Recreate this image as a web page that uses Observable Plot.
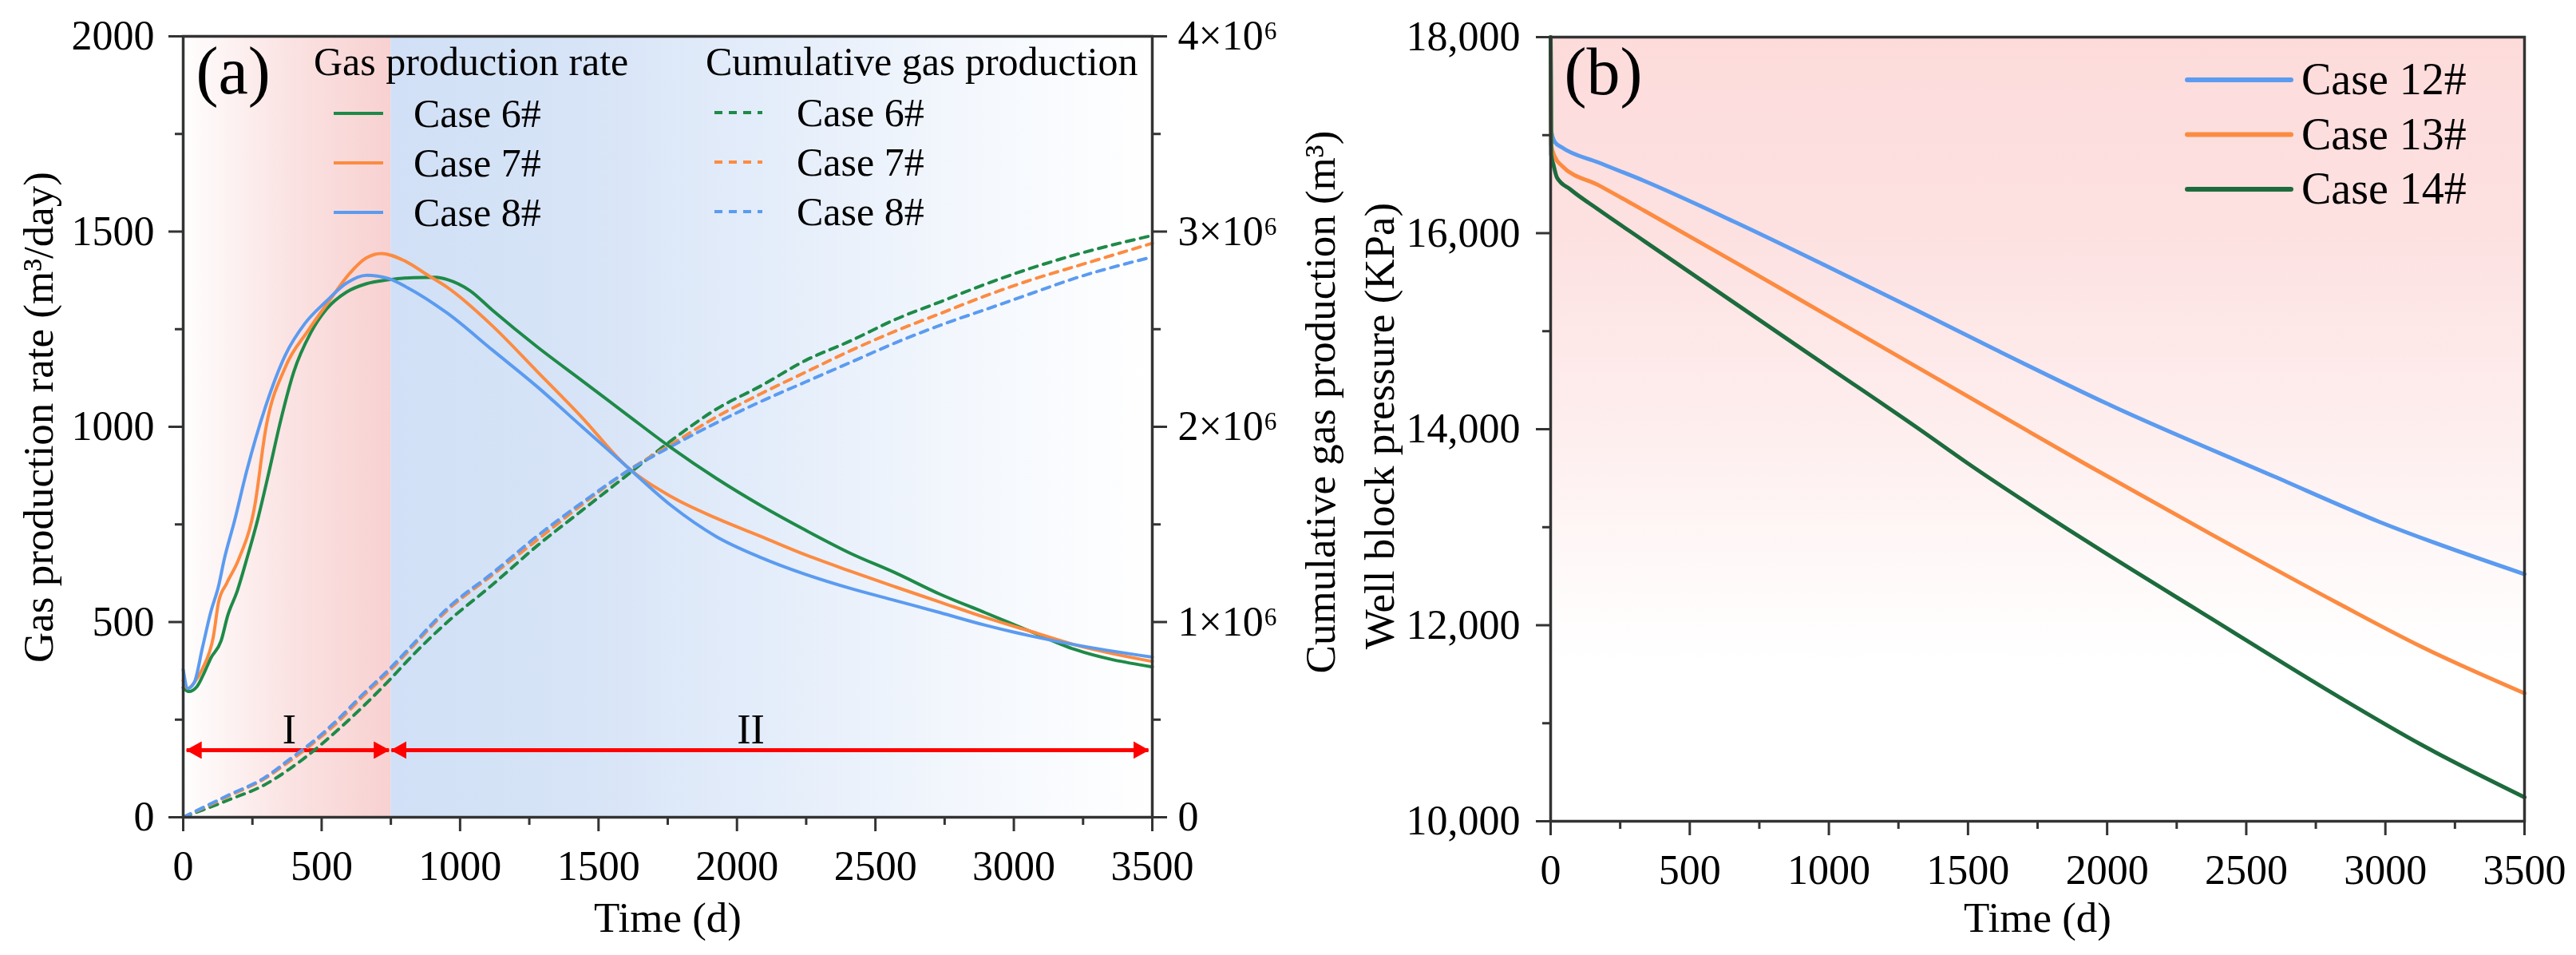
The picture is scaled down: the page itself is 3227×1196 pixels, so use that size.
<!DOCTYPE html>
<html><head><meta charset="utf-8">
<script src="https://cdn.jsdelivr.net/npm/d3@7"></script>
<script src="https://cdn.jsdelivr.net/npm/@observablehq/plot@0.6"></script>
<style>
html,body{margin:0;padding:0;background:#fff;}
#wrap{position:relative;width:3227px;height:1196px;overflow:hidden;font-family:"Liberation Serif","Times New Roman",serif;}
#wrap > svg{position:absolute;top:0;}
</style></head><body><div id="wrap"></div>
<script>
// ---------------- DATA ----------------
const casesA = ["Case 6#", "Case 7#", "Case 8#"];
const colorsA = ["#1e8a48", "#fc8b41", "#5b9bf0"];
const casesB = ["Case 12#", "Case 13#", "Case 14#"];
const colorsB = ["#5b9bf0", "#fc8b41", "#1d6b3d"];

// gas production rate (m3/day) : [time d, rate]
const rateCase6 = [[0,332],[20,322],[50,335],[70,361],[100,408],[137,452],[161,517],[195,579],[229,660],[270,765],[310,885],[350,1010],[399,1140],[460,1240],[516,1300],[590,1345],[660,1366],[737,1376],[830,1382],[913,1383],[954,1377],[1035,1349],[1116,1299],[1278,1205],[1439,1119],[1601,1032],[1763,946],[1925,868],[2087,798],[2248,735],[2410,676],[2572,626],[2734,571],[2896,524],[3057,477],[3219,430],[3500,385]];
const rateCase7 = [[0,350],[17,330],[40,345],[70,381],[109,463],[128,552],[157,599],[200,660],[259,800],[297,990],[369,1153],[450,1245],[530,1325],[600,1392],[660,1432],[715,1444],[800,1425],[884,1388],[954,1357],[1116,1259],[1278,1142],[1439,1025],[1601,899],[1763,821],[1925,766],[2087,719],[2248,672],[2410,630],[2572,590],[2734,551],[2896,512],[3057,477],[3219,442],[3500,399]];
const rateCase8 = [[0,378],[17,330],[40,345],[70,436],[99,524],[128,593],[148,660],[185,758],[229,886],[297,1051],[369,1184],[440,1265],[516,1321],[590,1368],[663,1388],[740,1380],[811,1356],[954,1291],[1116,1197],[1278,1103],[1439,1001],[1601,899],[1763,798],[1925,719],[2087,665],[2248,622],[2410,586],[2572,555],[2734,524],[2896,492],[3057,465],[3219,442],[3500,410]];

// cumulative gas production (millions of m3) : [time d, value]
const cumCase6 = [[0,0],[166,0.09],[291,0.164],[387,0.25],[435,0.30],[570,0.462],[743,0.70],[829,0.83],[954,1.00],[1116,1.19],[1278,1.39],[1439,1.57],[1601,1.75],[1763,1.93],[1925,2.09],[2087,2.21],[2248,2.34],[2410,2.44],[2572,2.55],[2734,2.64],[2896,2.73],[3057,2.81],[3219,2.88],[3500,2.98]];
const cumCase7 = [[0,0],[166,0.11],[291,0.195],[387,0.29],[474,0.385],[560,0.49],[646,0.615],[743,0.745],[829,0.875],[954,1.06],[1116,1.24],[1278,1.42],[1439,1.60],[1601,1.77],[1763,1.91],[1925,2.05],[2087,2.17],[2248,2.28],[2410,2.39],[2572,2.49],[2734,2.58],[2896,2.67],[3057,2.75],[3219,2.82],[3500,2.94]];
const cumCase8 = [[0,0],[166,0.115],[291,0.2],[387,0.3],[474,0.394],[560,0.503],[646,0.626],[743,0.757],[829,0.885],[954,1.07],[1116,1.25],[1278,1.44],[1439,1.61],[1601,1.77],[1763,1.90],[1925,2.02],[2087,2.13],[2248,2.23],[2410,2.33],[2572,2.43],[2734,2.52],[2896,2.60],[3057,2.68],[3219,2.76],[3500,2.87]];

// well block pressure (KPa) : [time d, value]
const presCase12 = [[0,18000],[2,17050],[15,16930],[40,16876],[172,16721],[336,16534],[665,16110],[995,15660],[1325,15200],[1600,14810],[2000,14260],[2599,13519],[2978,13055],[3500,12521]];
const presCase13 = [[0,18000],[2,16900],[15,16780],[40,16689],[172,16490],[336,16230],[665,15700],[995,15160],[1325,14620],[1600,14170],[1919,13650],[2373,12930],[2826,12230],[3130,11780],[3500,11306]];
const presCase14 = [[0,18000],[2,16800],[10,16700],[23,16566],[72,16444],[172,16240],[336,15920],[665,15280],[995,14640],[1325,14000],[1495,13660],[1919,12870],[2373,12070],[2826,11280],[3130,10780],[3500,10245]];

// stages
const phaseBounds = [0, 750, 3500];
const phaseNames = ["I", "II"];
const phaseLabelX = [383, 2050];
const phaseArrowX = [[12, 743], [752, 3486]];
const phaseArrowY = 172;
const phaseLabelY = 223;

// ticks
const xMajor = [0,500,1000,1500,2000,2500,3000,3500];
const xMinor = [250,750,1250,1750,2250,2750,3250];
const yMajorA = [0,500,1000,1500,2000];
const yMinorA = [250,750,1250,1750];
const cumMajor = [0,1e6,2e6,3e6,4e6];
const cumMinor = [0.5e6,1.5e6,2.5e6,3.5e6];
const yMajorB = [10000,12000,14000,16000,18000];
const yMinorB = [11000,13000,15000,17000];
const cumPerRate = 2000; // 4e6 on right axis <-> 2000 on left axis

// ---------------- BUILD ----------------
const FONT = "Liberation Serif, Times New Roman, serif";
const toRows = (arrs, names, f = v => v) => arrs.flatMap((a, i) => a.map(([t, v]) => ({t, v: f(v), s: names[i]})));
const rateRows = toRows([rateCase6, rateCase7, rateCase8], casesA);
const cumRows = toRows([cumCase6, cumCase7, cumCase8], casesA, v => v * 1e6 / cumPerRate);
const presRows = toRows([presCase12, presCase13, presCase14], casesB);
const phaseRows = phaseNames.map((n, i) => ({n, x1: phaseBounds[i], x2: phaseBounds[i+1], ax1: phaseArrowX[i][0], ax2: phaseArrowX[i][1], lx: phaseLabelX[i]}));

const axisStyle = {stroke: "#333", strokeWidth: 3, label: null};
const noLabel = () => "";
const cumFmt = d => { const m = Math.round(d * cumPerRate / 1e6 * 10) / 10; return m === 0 ? "0" : `${m}×10⁶`; };
const title = (txt, o) => Plot.text([txt], {textAnchor: "middle", lineAnchor: "middle", fontSize: 53, fill: "#000", ...o});

const plotA = Plot.plot({
  width: 1700, height: 1196,
  marginTop: 45, marginBottom: 173, marginLeft: 229, marginRight: 257,
  x: {domain: [0, 3500]},
  y: {domain: [0, 2000]},
  color: {domain: casesA, range: colorsA},
  style: {fontFamily: FONT, background: "transparent", overflow: "visible", color: "#000"},
  marks: [
    Plot.rect(phaseRows.slice(0,1), {x1: "x1", x2: "x2", y1: 0, y2: 2000, fill: "url(#gradPhaseI)"}),
    Plot.rect(phaseRows.slice(1,2), {x1: "x1", x2: "x2", y1: 0, y2: 2000, fill: "url(#gradPhaseII)"}),
    Plot.link(phaseRows, {x1: "ax1", x2: "ax2", y1: phaseArrowY, y2: phaseArrowY, stroke: "#ff0000", strokeWidth: 5}),
    Plot.text(phaseRows, {x: "lx", y: phaseLabelY, text: "n", fontSize: 52, fill: "#000"}),
    Plot.line(cumRows, {x: "t", y: "v", z: "s", stroke: "s", strokeWidth: 4, strokeDasharray: "10,8", curve: "monotone-x"}),
    Plot.line(rateRows, {x: "t", y: "v", z: "s", stroke: "s", strokeWidth: 4, curve: "monotone-x"}),
    Plot.axisX({...axisStyle, ticks: xMajor, tickSize: 18, tickPadding: 24, tickFormat: d => String(d), fontSize: 52}),
    Plot.axisX({...axisStyle, ticks: xMinor, tickSize: 10, tickFormat: noLabel}),
    Plot.axisY({...axisStyle, ticks: yMajorA, tickSize: 18, tickPadding: 18, tickFormat: d => String(d), fontSize: 52}),
    Plot.axisY({...axisStyle, ticks: yMinorA, tickSize: 10, tickFormat: noLabel}),
    Plot.axisY({...axisStyle, anchor: "right", ticks: cumMajor.map(c => c / cumPerRate), tickSize: 18, tickPadding: 14, tickFormat: cumFmt, fontSize: 52}),
    Plot.axisY({...axisStyle, anchor: "right", ticks: cumMinor.map(c => c / cumPerRate), tickSize: 10, tickFormat: noLabel}),
    Plot.frame({stroke: "#333", strokeWidth: 3.5}),
    Plot.text(["(a)"], {frameAnchor: "top-left", dx: 16, dy: 12, fontSize: 84, textAnchor: "start", lineAnchor: "top"}),
    title("Time (d)", {frameAnchor: "bottom", dy: 127}),
    title("Gas production rate (m³/day)", {frameAnchor: "left", dx: -180, dy: -12, rotate: -90}),
    title("Cumulative gas production (m³)", {frameAnchor: "right", dx: 212, dy: -31, rotate: -90})
  ]
});
plotA.style.left = "0px";

const plotB = Plot.plot({
  width: 1587, height: 1196,
  marginTop: 46, marginBottom: 168, marginLeft: 302, marginRight: 65,
  x: {domain: [0, 3500]},
  y: {domain: [10000, 18000]},
  color: {domain: casesB, range: colorsB},
  style: {fontFamily: FONT, background: "transparent", overflow: "visible", color: "#000"},
  marks: [
    Plot.rect([{x1: 0, x2: 3500}], {x1: "x1", x2: "x2", y1: 10000, y2: 18000, fill: "url(#gradB)"}),
    Plot.line(presRows, {x: "t", y: "v", z: "s", stroke: "s", strokeWidth: 5, curve: "monotone-x"}),
    Plot.axisX({...axisStyle, ticks: xMajor, tickSize: 18, tickPadding: 24, tickFormat: d => String(d), fontSize: 52}),
    Plot.axisX({...axisStyle, ticks: xMinor, tickSize: 10, tickFormat: noLabel}),
    Plot.axisY({...axisStyle, ticks: yMajorB, tickSize: 18, tickPadding: 20, fontSize: 52}),
    Plot.axisY({...axisStyle, ticks: yMinorB, tickSize: 10, tickFormat: noLabel}),
    Plot.frame({stroke: "#333", strokeWidth: 3.5}),
    Plot.text(["(b)"], {frameAnchor: "top-left", dx: 17, dy: 12, fontSize: 84, textAnchor: "start", lineAnchor: "top"}),
    title("Time (d)", {frameAnchor: "bottom", dy: 122}),
    title("Well block pressure (KPa)", {frameAnchor: "left", dx: -213, dy: -4, rotate: -90})
  ]
});
plotB.style.left = "1640px";

const wrap = document.getElementById("wrap");
wrap.appendChild(plotA);
wrap.appendChild(plotB);

// ---------------- DEFS (gradients, arrowheads) ----------------
function gradient(defs, id, vertical, stops) {
  const g = defs.append("linearGradient").attr("id", id)
    .attr("x1", 0).attr("y1", 0).attr("x2", vertical ? 0 : 1).attr("y2", vertical ? 1 : 0);
  stops.forEach(([o, c]) => g.append("stop").attr("offset", o).attr("stop-color", c));
}
const defsA = d3.select(plotA).insert("defs", ":first-child");
gradient(defsA, "gradPhaseI", false, [[0, "#fffefe"], [0.5, "#fbe3e3"], [1, "#f8d1d1"]]);
gradient(defsA, "gradPhaseII", false, [[0, "#d1e0f6"], [0.25, "#d7e4f7"], [0.5, "#e4edfa"], [0.75, "#f3f7fd"], [1, "#ffffff"]]);
const mk = defsA.append("marker").attr("id", "arrowHead")
  .attr("viewBox", "0 0 20 22").attr("refX", 19).attr("refY", 11)
  .attr("markerWidth", 20).attr("markerHeight", 22)
  .attr("markerUnits", "userSpaceOnUse").attr("orient", "auto-start-reverse");
mk.append("path").attr("d", "M0,0 L20,11 L0,22 Z").attr("fill", "#ff0000");
d3.select(plotA).selectAll('g[aria-label="link"] path')
  .attr("marker-start", "url(#arrowHead)").attr("marker-end", "url(#arrowHead)");

const defsB = d3.select(plotB).insert("defs", ":first-child");
gradient(defsB, "gradB", true, [[0, "#fddbdb"], [0.25, "#fde1e1"], [0.5, "#feeeee"], [0.7, "#fffafa"], [0.8, "#ffffff"], [1, "#ffffff"]]);

// ---------------- LEGENDS ----------------
function legend(svgEl, opts) {
  const g = d3.select(svgEl).append("g").attr("font-family", FONT).attr("fill", "#000").attr("text-anchor", "start");
  if (opts.header) g.append("text").attr("x", opts.header[0]).attr("y", opts.header[1])
    .attr("font-size", opts.fontSize).attr("text-anchor", "start").text(opts.header[2]);
  opts.names.forEach((n, i) => {
    const y = opts.y0 + i * opts.dy;
    g.append("line").attr("x1", opts.lx1).attr("x2", opts.lx2).attr("y1", y).attr("y2", y)
      .attr("stroke", opts.colors[i]).attr("stroke-width", opts.sw)
      .attr("stroke-dasharray", opts.dash || null).attr("stroke-linecap", opts.cap || "butt");
    g.append("text").attr("x", opts.tx).attr("y", y).attr("dy", "0.33em").attr("text-anchor", "start")
      .attr("font-size", opts.fontSize).text(n);
  });
}
legend(plotA, {header: [393, 94, "Gas production rate"], names: casesA, colors: colorsA, y0: 142, dy: 62, lx1: 418, lx2: 480, tx: 518, sw: 4, fontSize: 50});
legend(plotA, {header: [884, 94, "Cumulative gas production"], names: casesA, colors: colorsA, y0: 141, dy: 62, lx1: 895, lx2: 955, tx: 998, sw: 4, dash: "10,8", fontSize: 50});
legend(plotB, {names: casesB, colors: colorsB, y0: 100, dy: 68.5, lx1: 1100, lx2: 1230, tx: 1243, sw: 6, cap: "round", fontSize: 56});
</script>
</body></html>
